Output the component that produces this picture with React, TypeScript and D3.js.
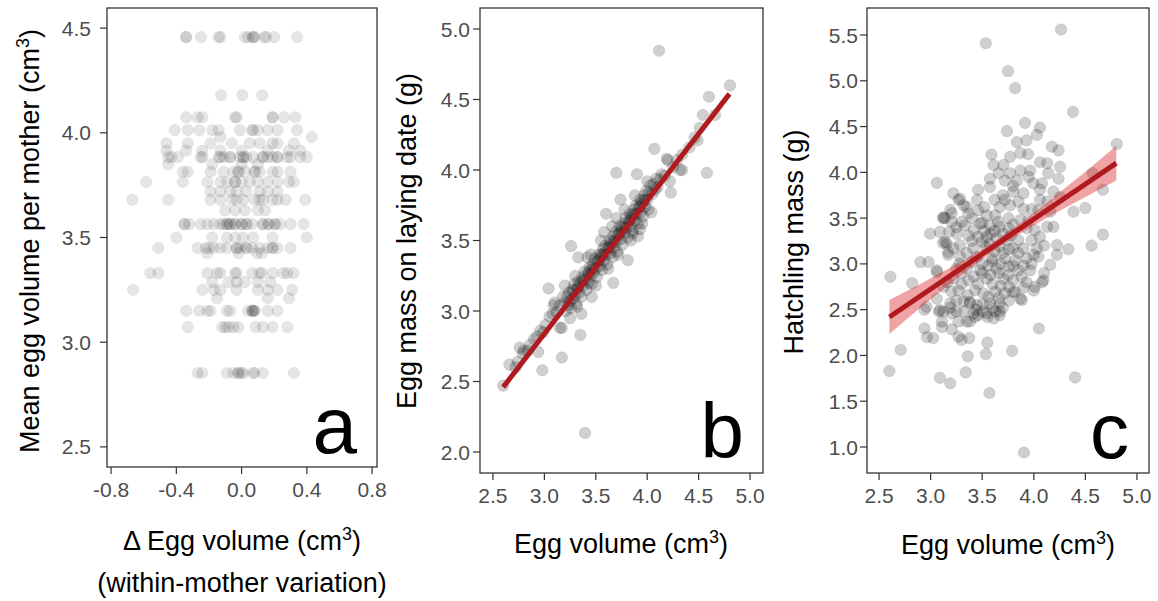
import React from 'react';
import * as d3 from 'd3';

// ---- panel a: mean egg volume per mother vs within-mother deviation ----
// each mother mean (y) with the deviations (x) of her eggs
const aLevels = [4.457, 4.18, 4.074, 4.013, 3.98, 3.95, 3.915, 3.884, 3.85, 3.814, 3.765, 3.72, 3.68, 3.63, 3.564, 3.5, 3.45, 3.425, 3.33, 3.287, 3.25, 3.21, 3.15, 3.072, 2.853];
const aDeltas = [
  [-0.34, -0.34, -0.25, -0.14, -0.13, 0.02, 0.04, 0.07, 0.07, 0.08, 0.14, 0.15, 0.2, 0.34],
  [-0.125, 0.004, 0.126],
  [-0.34, -0.27, -0.24, -0.04, -0.03, 0.19, 0.19, 0.26, 0.33],
  [-0.41, -0.33, -0.26, -0.18, -0.14, -0.01, 0.065, 0.07, 0.1, 0.16, 0.22, 0.34],
  [-0.13, 0.43],
  [-0.46, -0.33, -0.19, -0.06, 0.05, 0.11, 0.19, 0.22, 0.32],
  [-0.46, -0.34, -0.24, -0.13, 0.0, 0.16, 0.29, 0.36],
  [-0.45, -0.43, -0.39, -0.25, -0.24, -0.14, -0.13, -0.11, -0.07, -0.07, -0.01, 0.01, 0.01, 0.03, 0.07, 0.13, 0.13, 0.16, 0.19, 0.22, 0.22, 0.28, 0.3, 0.36, 0.4],
  [-0.45, -0.18, 0.0, 0.1],
  [-0.36, -0.33, -0.19, -0.11, -0.05, -0.02, -0.02, 0.02, 0.08, 0.08, 0.11, 0.19, 0.22, 0.3],
  [-0.585, -0.36, -0.21, -0.13, -0.09, -0.04, -0.04, 0.0, 0.05, 0.1, 0.16, 0.22, 0.29, 0.32],
  [-0.19, -0.13, -0.07, -0.03, 0.03, 0.11, 0.16, 0.22],
  [-0.67, -0.45, -0.19, -0.13, -0.06, -0.03, 0.01, 0.08, 0.11, 0.13, 0.19, 0.22, 0.27, 0.39],
  [-0.1, -0.04, 0.02, 0.1, 0.145],
  [-0.35, -0.35, -0.32, -0.25, -0.21, -0.17, -0.13, -0.11, -0.09, -0.09, -0.07, -0.07, -0.04, -0.04, 0.0, 0.0, 0.03, 0.03, 0.065, 0.13, 0.13, 0.165, 0.165, 0.205, 0.205, 0.235, 0.3, 0.38],
  [-0.4, -0.18, -0.09, -0.04, 0.01, 0.07, 0.19, 0.4],
  [-0.51, -0.27, -0.22, -0.2, -0.17, -0.13, -0.09, -0.03, -0.03, -0.01, 0.03, 0.03, 0.065, 0.11, 0.16, 0.19, 0.19, 0.22, 0.3],
  [-0.21, -0.02, 0.095, 0.125],
  [-0.56, -0.51, -0.21, -0.15, -0.13, -0.04, -0.03, 0.065, 0.11, 0.125, 0.19, 0.255, 0.28, 0.32],
  [-0.18, -0.08, -0.03, 0.02, 0.1, 0.175],
  [-0.665, -0.24, -0.17, -0.13, -0.03, 0.1, 0.16, 0.22, 0.31],
  [-0.15, 0.16, 0.29],
  [-0.34, -0.26, -0.21, -0.19, -0.09, -0.07, 0.04, 0.065, 0.065, 0.07, 0.08, 0.08, 0.16, 0.22],
  [-0.33, -0.12, -0.1, -0.08, -0.05, -0.02, 0.085, 0.13, 0.19, 0.28],
  [-0.27, -0.24, -0.09, -0.05, -0.02, -0.02, 0.0, 0.01, 0.07, 0.08, 0.13, 0.32],
];
const aXTicks = [-0.8, -0.4, 0.0, 0.4, 0.8];
const aYTicks = [2.5, 3.0, 3.5, 4.0, 4.5];

// ---- panel b: egg mass on laying date vs egg volume ----
const bPoints: [number, number][] = [
  // lower tail
  [2.6, 2.47], [2.66, 2.62], [2.72, 2.6], [2.74, 2.64], [2.76, 2.74], [2.79, 2.7], [2.8, 2.72], [2.84, 2.72],
  [2.86, 2.76], [2.9, 2.8], [2.93, 2.82], [2.94, 2.71], [2.96, 2.86], [2.98, 2.58], [2.99, 2.85], [3.01, 2.9],
  [3.05, 2.96], [3.08, 2.98], [3.09, 3.04], [3.1, 3.06], [3.12, 2.99], [3.15, 3.04], [3.17, 2.88], [3.18, 3.1],
  // dense core
  [3.2, 3.06], [3.21, 3.0], [3.22, 3.1], [3.23, 3.04], [3.24, 3.13], [3.25, 3.07], [3.26, 3.02], [3.27, 3.15],
  [3.28, 3.09], [3.29, 3.19], [3.3, 3.11], [3.31, 3.05], [3.32, 3.16], [3.33, 3.21], [3.34, 3.13], [3.35, 3.2],
  [3.36, 3.1], [3.37, 3.24], [3.38, 3.18], [3.39, 3.28], [3.4, 3.22], [3.41, 3.15], [3.42, 3.27], [3.43, 3.2],
  [3.44, 3.31], [3.45, 3.25], [3.46, 3.19], [3.47, 3.33], [3.48, 3.27], [3.49, 3.37], [3.5, 3.3], [3.51, 3.24],
  [3.52, 3.35], [3.53, 3.4], [3.54, 3.32], [3.55, 3.38], [3.56, 3.29], [3.57, 3.44], [3.58, 3.36], [3.59, 3.46],
  [3.6, 3.4], [3.61, 3.33], [3.62, 3.45], [3.63, 3.5], [3.64, 3.41], [3.65, 3.47], [3.66, 3.38], [3.67, 3.53],
  [3.68, 3.45], [3.69, 3.56], [3.7, 3.49], [3.71, 3.42], [3.72, 3.54], [3.73, 3.6], [3.74, 3.51], [3.75, 3.56],
  [3.76, 3.47], [3.77, 3.62], [3.78, 3.55], [3.79, 3.66], [3.8, 3.59], [3.81, 3.52], [3.82, 3.64], [3.83, 3.69],
  [3.84, 3.6], [3.85, 3.66], [3.86, 3.57], [3.87, 3.72], [3.88, 3.64], [3.89, 3.75], [3.9, 3.69], [3.91, 3.62],
  [3.92, 3.74], [3.93, 3.79], [3.94, 3.7], [3.95, 3.76], [3.96, 3.67], [3.97, 3.82], [3.98, 3.74], [3.99, 3.85],
  [4.0, 3.79], [4.01, 3.72], [4.02, 3.84], [4.03, 3.89], [4.05, 3.83], [4.06, 3.9], [4.08, 3.86], [4.09, 3.94],
  [4.1, 3.88], [4.12, 3.93], [4.14, 3.97],
  [3.28, 3.14], [3.33, 3.17], [3.38, 3.22], [3.43, 3.26], [3.48, 3.31], [3.53, 3.36], [3.58, 3.41], [3.63, 3.45],
  [3.68, 3.5], [3.73, 3.55], [3.78, 3.6], [3.83, 3.64], [3.88, 3.69], [3.93, 3.74], [3.98, 3.79], [3.45, 3.29],
  [3.55, 3.4], [3.65, 3.49], [3.75, 3.59], [3.85, 3.68], [3.95, 3.78],
  // wider spread around the core
  [3.3, 3.25], [3.36, 2.98], [3.42, 3.38], [3.5, 3.18], [3.55, 3.5], [3.62, 3.3], [3.66, 3.6], [3.72, 3.4],
  [3.78, 3.72], [3.84, 3.5], [3.88, 3.82], [3.95, 3.62], [4.0, 3.92], [4.04, 3.7], [3.25, 2.95], [3.2, 3.18],
  [3.58, 3.56], [3.7, 3.66], [3.86, 3.55], [3.45, 3.4],
  // scattered points off the core
  [3.26, 3.46], [3.33, 3.38], [3.35, 2.83], [3.395, 2.135], [3.46, 3.1], [3.6, 3.69], [3.67, 3.2], [3.7, 3.98],
  [3.74, 3.79], [3.81, 3.36], [3.9, 3.97], [3.91, 3.53], [3.93, 3.58], [4.07, 4.15], [4.115, 4.846], [3.04, 3.16],
  [3.17, 2.67], [3.15, 2.88], [3.32, 3.03],
  // upper tail
  [4.17, 3.96], [4.19, 4.08], [4.2, 4.07], [4.22, 3.92], [4.23, 3.84], [4.25, 4.02], [4.29, 4.07], [4.32, 4.0],
  [4.34, 4.11], [4.34, 4.0], [4.41, 4.16], [4.46, 4.23], [4.49, 4.21], [4.51, 4.3], [4.54, 4.39], [4.58, 3.98],
  [4.6, 4.52], [4.66, 4.39], [4.805, 4.6],
];
const bFitX = [2.6, 4.8];
const bFitY = [2.46, 4.54];
const bXTicks = [2.5, 3.0, 3.5, 4.0, 4.5, 5.0];
const bYTicks = [2.0, 2.5, 3.0, 3.5, 4.0, 4.5, 5.0];

// ---- panel c: hatchling mass vs egg volume ----
const cPoints: [number, number][] = [
  [4.265, 5.56], [3.535, 5.41], [3.75, 5.105], [3.82, 4.92], [4.38, 4.66], [3.915, 4.54], [3.74, 4.45], [4.06, 4.49],
  [4.03, 4.41], [3.835, 4.33], [3.93, 4.35], [4.175, 4.28], [4.24, 4.24], [4.805, 4.31], [3.59, 4.195], [3.87, 4.21],
  [3.77, 4.17], [3.945, 4.2], [4.06, 4.11], [4.13, 4.1], [4.255, 4.06], [3.61, 4.08], [3.705, 4.08], [3.66, 3.99],
  [3.77, 3.99], [3.87, 4.02], [3.965, 4.02], [4.14, 3.99], [4.24, 3.93], [3.575, 3.93], [3.72, 3.91], [3.835, 3.91],
  [3.995, 3.88], [4.08, 3.88], [3.06, 3.885], [3.46, 3.81], [3.575, 3.84], [3.8, 3.79], [3.9, 3.77], [4.06, 3.81],
  [4.19, 3.79], [3.22, 3.77], [3.27, 3.7], [3.32, 3.64], [3.72, 3.7], [3.77, 3.64], [3.85, 3.68], [3.67, 3.62],
  [4.06, 3.7], [4.13, 3.68], [4.045, 3.585], [4.16, 3.57], [4.385, 3.57], [3.46, 3.585], [3.365, 3.55], [3.545, 3.53],
  [3.625, 3.53], [3.755, 3.5], [3.87, 3.48], [3.14, 3.5], [3.205, 3.46], [3.3, 3.46], [3.48, 3.44], [3.575, 3.42],
  [3.67, 3.405], [3.755, 3.39], [3.93, 3.39], [4.01, 3.37], [4.13, 3.405], [4.19, 3.405], [2.995, 3.33], [3.09, 3.35],
  [3.255, 3.33], [3.365, 3.31], [3.46, 3.295], [3.545, 3.295], [3.64, 3.28], [3.74, 3.26], [3.85, 3.26], [3.98, 3.26],
  [4.06, 3.295], [3.155, 3.22], [3.285, 3.205], [3.22, 3.17], [3.415, 3.17], [3.53, 3.19], [3.67, 3.19], [3.8, 3.17],
  [3.9, 3.17], [4.03, 3.17], [4.225, 3.205], [4.335, 3.16], [4.225, 3.1], [3.17, 3.1], [3.285, 3.08], [3.45, 3.08],
  [3.595, 3.06], [3.72, 3.06], [3.82, 3.04], [3.93, 3.06], [4.045, 3.08], [2.98, 3.02], [2.9, 3.02], [3.06, 2.93],
  [4.16, 2.99], [3.35, 2.95], [3.48, 2.93], [3.64, 2.95], [3.755, 2.97], [3.85, 2.93], [3.965, 2.93], [3.22, 2.84],
  [3.365, 2.82], [3.545, 2.84], [3.705, 2.84], [3.8, 2.82], [3.93, 2.8], [4.095, 2.82], [4.01, 2.75], [3.125, 2.75],
  [3.27, 2.71], [3.43, 2.71], [3.51, 2.68], [3.625, 2.695], [3.72, 2.68], [3.82, 2.695], [3.87, 2.62], [3.06, 2.62],
  [3.19, 2.57], [3.38, 2.585], [3.45, 2.55], [3.575, 2.57], [3.67, 2.57], [3.32, 2.48], [3.415, 2.46], [3.51, 2.48],
  [3.625, 2.48], [3.67, 2.44], [3.125, 2.48], [2.96, 2.53], [4.67, 3.32], [4.56, 3.2], [4.67, 3.81], [4.57, 3.99],
  [4.5, 3.61], [4.255, 3.73], [2.61, 2.86], [2.82, 2.79], [3.06, 2.91], [3.12, 3.23], [3.12, 3.5], [3.205, 3.555],
  [3.125, 3.51], [3.285, 3.71], [3.35, 3.62], [3.19, 3.59], [3.14, 3.24], [3.17, 3.13], [2.6, 1.83], [2.71, 2.06],
  [3.09, 1.756], [3.19, 1.695], [3.34, 1.815], [3.36, 1.99], [3.535, 2.015], [3.55, 2.14], [3.57, 1.59], [3.79, 2.05],
  [3.905, 0.94], [4.05, 2.295], [4.4, 1.76], [2.94, 2.295], [2.965, 2.2], [3.025, 2.19], [3.11, 2.31], [3.205, 2.285],
  [3.27, 2.205], [3.3, 2.17], [3.375, 2.19], [2.94, 2.5], [3.08, 2.48], [3.205, 2.46], [3.27, 2.37], [3.38, 2.37],
  [3.46, 2.44], [3.545, 2.46], [3.61, 2.405], [3.67, 2.48], [3.38, 2.57], [3.32, 2.59], [3.885, 2.605], [3.09, 2.495],
  [3.19, 2.52], [3.25, 2.48], [3.11, 2.37], [3.35, 2.37], [3.43, 2.42], [4.08, 2.8], [4.0, 2.71], [3.8, 2.69],
  // extra density in the core of the cloud
  [3.33, 3.42], [3.42, 3.37], [3.52, 3.36], [3.58, 3.33], [3.62, 3.36], [3.7, 3.33], [3.78, 3.31], [3.4, 3.25],
  [3.5, 3.24], [3.57, 3.22], [3.62, 3.14], [3.7, 3.12], [3.76, 3.16], [3.85, 3.12], [3.35, 3.12], [3.4, 3.02],
  [3.5, 3.0], [3.56, 2.98], [3.6, 3.03], [3.68, 3.0], [3.8, 2.98], [3.9, 2.98], [3.3, 2.9], [3.42, 2.86],
  [3.5, 2.9], [3.58, 2.88], [3.66, 2.9], [3.75, 2.88], [3.88, 2.86], [3.3, 2.78], [3.46, 2.78], [3.6, 2.78],
  [3.68, 2.76], [3.76, 2.75], [3.9, 2.74], [3.36, 2.66], [3.56, 2.64], [3.66, 2.63], [3.76, 2.6], [3.5, 2.56],
  [3.6, 2.52], [3.7, 2.52], [3.44, 2.5], [3.55, 2.42], [3.25, 2.6], [3.2, 2.7], [3.16, 2.8], [3.25, 2.95],
  [3.28, 3.0], [3.18, 3.35], [3.25, 3.4], [3.4, 3.5], [3.5, 3.45], [3.65, 3.46], [3.8, 3.43], [3.95, 3.48],
  [3.98, 3.6], [3.9, 3.6], [3.7, 3.75], [3.62, 3.7], [3.8, 3.85], [3.95, 3.95], [3.45, 3.7], [3.52, 3.62],
  [4.0, 3.1], [4.1, 3.2], [3.98, 3.0], [4.1, 2.9],
];
const cFitX = [2.6, 4.8];
const cFitY = [2.42, 4.1];
const cCiX = [2.6, 2.9, 3.2, 3.5, 3.7, 4.0, 4.3, 4.6, 4.8];
const cCiLow = [2.235, 2.52, 2.79, 3.05, 3.21, 3.42, 3.61, 3.79, 3.91];
const cCiHigh = [2.605, 2.78, 2.965, 3.16, 3.31, 3.555, 3.825, 4.1, 4.29];
const cXTicks = [2.5, 3.0, 3.5, 4.0, 4.5, 5.0];
const cYTicks = [1.0, 1.5, 2.0, 2.5, 3.0, 3.5, 4.0, 4.5, 5.0, 5.5];

const FONT = '"Liberation Sans", Arial, Helvetica, sans-serif';
const TICK_COLOR = '#4d4d4d';
const FIT_COLOR = '#b0191e';

type Scale = d3.ScaleLinear<number, number>;

function Axes({x, y, xTicks, yTicks, labelX}: {x: Scale; y: Scale; xTicks: number[]; yTicks: number[]; labelX: number}) {
  const [l, r] = x.range();
  const [b, t] = y.range();
  return (
    <g>
      {yTicks.map(v => (
        <g key={'y' + v}>
          <line x1={l - 7} x2={l} y1={y(v)} y2={y(v)} stroke="#333" strokeWidth={1.2} />
          <text x={labelX} y={y(v)} dy="0.36em" textAnchor="end" fontSize={21} fill={TICK_COLOR}>
            {v.toFixed(1)}
          </text>
        </g>
      ))}
      {xTicks.map(v => (
        <g key={'x' + v}>
          <line x1={x(v)} x2={x(v)} y1={b} y2={b + 7} stroke="#333" strokeWidth={1.2} />
          <text x={x(v)} y={b + 30} textAnchor="middle" fontSize={21} fill={TICK_COLOR}>
            {v.toFixed(1)}
          </text>
        </g>
      ))}
      <rect x={l} y={t} width={r - l} height={b - t} fill="none" stroke="#333" strokeWidth={1.3} />
    </g>
  );
}

function Dots({pts, x, y, opacity}: {pts: [number, number][]; x: Scale; y: Scale; opacity: number}) {
  return (
    <g>
      {pts.map((p, i) => (
        <circle key={i} cx={x(p[0])} cy={y(p[1])} r={5.8} fill="#000" fillOpacity={opacity}
          stroke="#000" strokeOpacity={opacity * 0.6} strokeWidth={0.8} />
      ))}
    </g>
  );
}

function Cm3({pre}: {pre: string}) {
  return (
    <>
      <tspan>{pre}</tspan>
      <tspan dy={-10} fontSize={18}>3</tspan>
      <tspan dy={10}>)</tspan>
    </>
  );
}

export default function App() {
  const ax = d3.scaleLinear().domain([-0.825, 0.83]).range([107, 377]);
  const ay = d3.scaleLinear().domain([2.404, 4.596]).range([467, 8]);
  const bx = d3.scaleLinear().domain([2.374, 5.126]).range([480, 763]);
  const by = d3.scaleLinear().domain([1.851, 5.149]).range([473, 8]);
  const cx = d3.scaleLinear().domain([2.383, 5.117]).range([867, 1149]);
  const cy = d3.scaleLinear().domain([0.716, 5.795]).range([473, 8]);

  const aPoints: [number, number][] = aLevels.flatMap((lv, i) => aDeltas[i].map(d => [d, lv] as [number, number]));

  const bLine = d3.line<number>().x(i => bx(bFitX[i])).y(i => by(bFitY[i]));
  const cLine = d3.line<number>().x(i => cx(cFitX[i])).y(i => cy(cFitY[i]));
  const cBand = d3.area<number>()
    .x(i => cx(cCiX[i]))
    .y0(i => cy(cCiLow[i]))
    .y1(i => cy(cCiHigh[i]))
    .curve(d3.curveMonotoneX);

  return (
    <div style={{position: 'absolute', left: 0, top: 0}}>
      <svg width={1158} height={601} style={{display: 'block', background: '#fff'}} fontFamily={FONT}>
        {/* panel a */}
        <Axes x={ax} y={ay} xTicks={aXTicks} yTicks={aYTicks} labelX={91} />
        <Dots pts={aPoints} x={ax} y={ay} opacity={0.1} />
        <text x={357} y={453} textAnchor="end" fontSize={80}>a</text>
        <text transform="translate(39,241) rotate(-90)" textAnchor="middle" fontSize={27}>
          <Cm3 pre="Mean egg volume per mother (cm" />
        </text>
        <text x={242} y={550} textAnchor="middle" fontSize={27}>
          <Cm3 pre="Δ Egg volume (cm" />
        </text>
        <text x={242} y={592} textAnchor="middle" fontSize={27}>(within-mother variation)</text>

        {/* panel b */}
        <Axes x={bx} y={by} xTicks={bXTicks} yTicks={bYTicks} labelX={470} />
        <Dots pts={bPoints} x={bx} y={by} opacity={0.19} />
        <path d={bLine([0, 1]) ?? ''} stroke={FIT_COLOR} strokeWidth={5} fill="none" />
        <text x={744} y={458} textAnchor="end" fontSize={78}>b</text>
        <text transform="translate(416,241) rotate(-90)" textAnchor="middle" fontSize={27}>
          Egg mass on laying date (g)
        </text>
        <text x={621} y={553} textAnchor="middle" fontSize={27}>
          <Cm3 pre="Egg volume (cm" />
        </text>

        {/* panel c */}
        <Axes x={cx} y={cy} xTicks={cXTicks} yTicks={cYTicks} labelX={858} />
        <Dots pts={cPoints} x={cx} y={cy} opacity={0.19} />
        <path d={cBand(d3.range(cCiX.length)) ?? ''} fill="#d7191c" fillOpacity={0.4} />
        <path d={cLine([0, 1]) ?? ''} stroke={FIT_COLOR} strokeWidth={5} fill="none" />
        <text x={1129} y={458} textAnchor="end" fontSize={78}>c</text>
        <text transform="translate(803,242) rotate(-90)" textAnchor="middle" fontSize={27}>
          Hatchling mass (g)
        </text>
        <text x={1008} y={554} textAnchor="middle" fontSize={27}>
          <Cm3 pre="Egg volume (cm" />
        </text>
      </svg>
    </div>
  );
}
